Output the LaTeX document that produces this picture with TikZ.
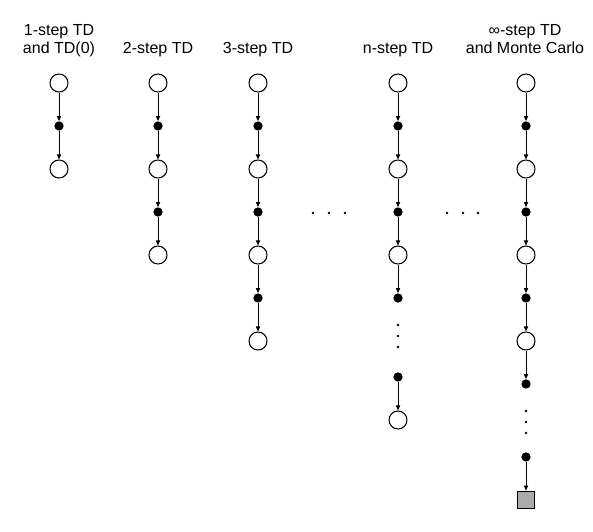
\documentclass[tikz,border=0pt]{standalone}
\usepackage{fontspec}
\setmainfont{Liberation Sans}
\usetikzlibrary{arrows.meta,positioning}

\begin{document}
\begin{tikzpicture}[x=0.75pt, y=-0.75pt,
  state/.style={circle, draw=black, line width=0.8pt, fill=white, minimum size=13.5pt, inner sep=0pt},
  act/.style={circle, fill=black, minimum size=7pt, inner sep=0pt},
  term/.style={rectangle, draw=black, line width=1.1pt, fill=black!33, minimum size=13pt, inner sep=0pt},
  head/.style={inner sep=0pt, text depth=0pt, align=center, anchor=south, font=\fontsize{12}{13.5}\selectfont},
  >={Triangle[length=3.8pt, width=3.2pt]}]
  \useasboundingbox (0,0) rectangle (593,532);

  % headings
  \node (ha) [head] at (59,54) {1-step TD\\and TD(0)};
  \node (hb) [head] at (158,54) {2-step TD};
  \node (hc) [head] at (258,54) {3-step TD};
  \node (hd) [head] at (398,54) {n-step TD};
  \node (he) [head] at (525,54) {∞-step TD\\and Monte Carlo};

  % 1-step
  \node (sa1) [state] at (59,83) {};
  \node (da1) [act] at (59,126) {};
  \node (sa2) [state] at (59,169) {};

  % 2-step
  \node (sb1) [state] at (158,83) {};
  \node (db1) [act] at (158,126) {};
  \node (sb2) [state] at (158,169) {};
  \node (db2) [act] at (158,212) {};
  \node (sb3) [state] at (158,255) {};

  % 3-step
  \node (sc1) [state] at (258,83) {};
  \node (dc1) [act] at (258,126) {};
  \node (sc2) [state] at (258,169) {};
  \node (dc2) [act] at (258,212) {};
  \node (sc3) [state] at (258,255) {};
  \node (dc3) [act] at (258,298) {};
  \node (sc4) [state] at (258,341) {};

  % n-step
  \node (sd1) [state] at (398,83) {};
  \node (dd1) [act] at (398,126) {};
  \node (sd2) [state] at (398,169) {};
  \node (dd2) [act] at (398,212) {};
  \node (sd3) [state] at (398,255) {};
  \node (dd3) [act] at (398,298) {};
  \node (dd4) [act] at (398,377) {};
  \node (sd4) [state] at (398,420) {};

  % infinity-step
  \node (se1) [state] at (526,83) {};
  \node (de1) [act] at (526,126) {};
  \node (se2) [state] at (526,169) {};
  \node (de2) [act] at (526,212) {};
  \node (se3) [state] at (526,255) {};
  \node (de3) [act] at (526,298) {};
  \node (se4) [state] at (526,341) {};
  \node (de4) [act] at (526,384) {};
  \node (de5) [act] at (526,457) {};
  \node (te) [term] at (526,500) {};

  \path [->] [line width=0.6pt]
  (sa1) edge (da1)
  (da1) edge (sa2)
  (sb1) edge (db1)
  (db1) edge (sb2)
  (sb2) edge (db2)
  (db2) edge (sb3)
  (sc1) edge (dc1)
  (dc1) edge (sc2)
  (sc2) edge (dc2)
  (dc2) edge (sc3)
  (sc3) edge (dc3)
  (dc3) edge (sc4)
  (sd1) edge (dd1)
  (dd1) edge (sd2)
  (sd2) edge (dd2)
  (dd2) edge (sd3)
  (sd3) edge (dd3)
  (dd4) edge (sd4)
  (se1) edge (de1)
  (de1) edge (se2)
  (se2) edge (de2)
  (de2) edge (se3)
  (se3) edge (de3)
  (de3) edge (se4)
  (se4) edge (de4)
  (de5) edge (te);

  % ellipses
  \fill (313,213) circle (1pt) (329,213) circle (1pt) (345,213) circle (1pt);
  \fill (447,213) circle (1pt) (463,213) circle (1pt) (478,213) circle (1pt);
  \fill (398,325) circle (1pt) (398,336) circle (1pt) (398,347) circle (1pt);
  \fill (526,411) circle (1pt) (526,422) circle (1pt) (526,433) circle (1pt);
\end{tikzpicture}
\end{document}
